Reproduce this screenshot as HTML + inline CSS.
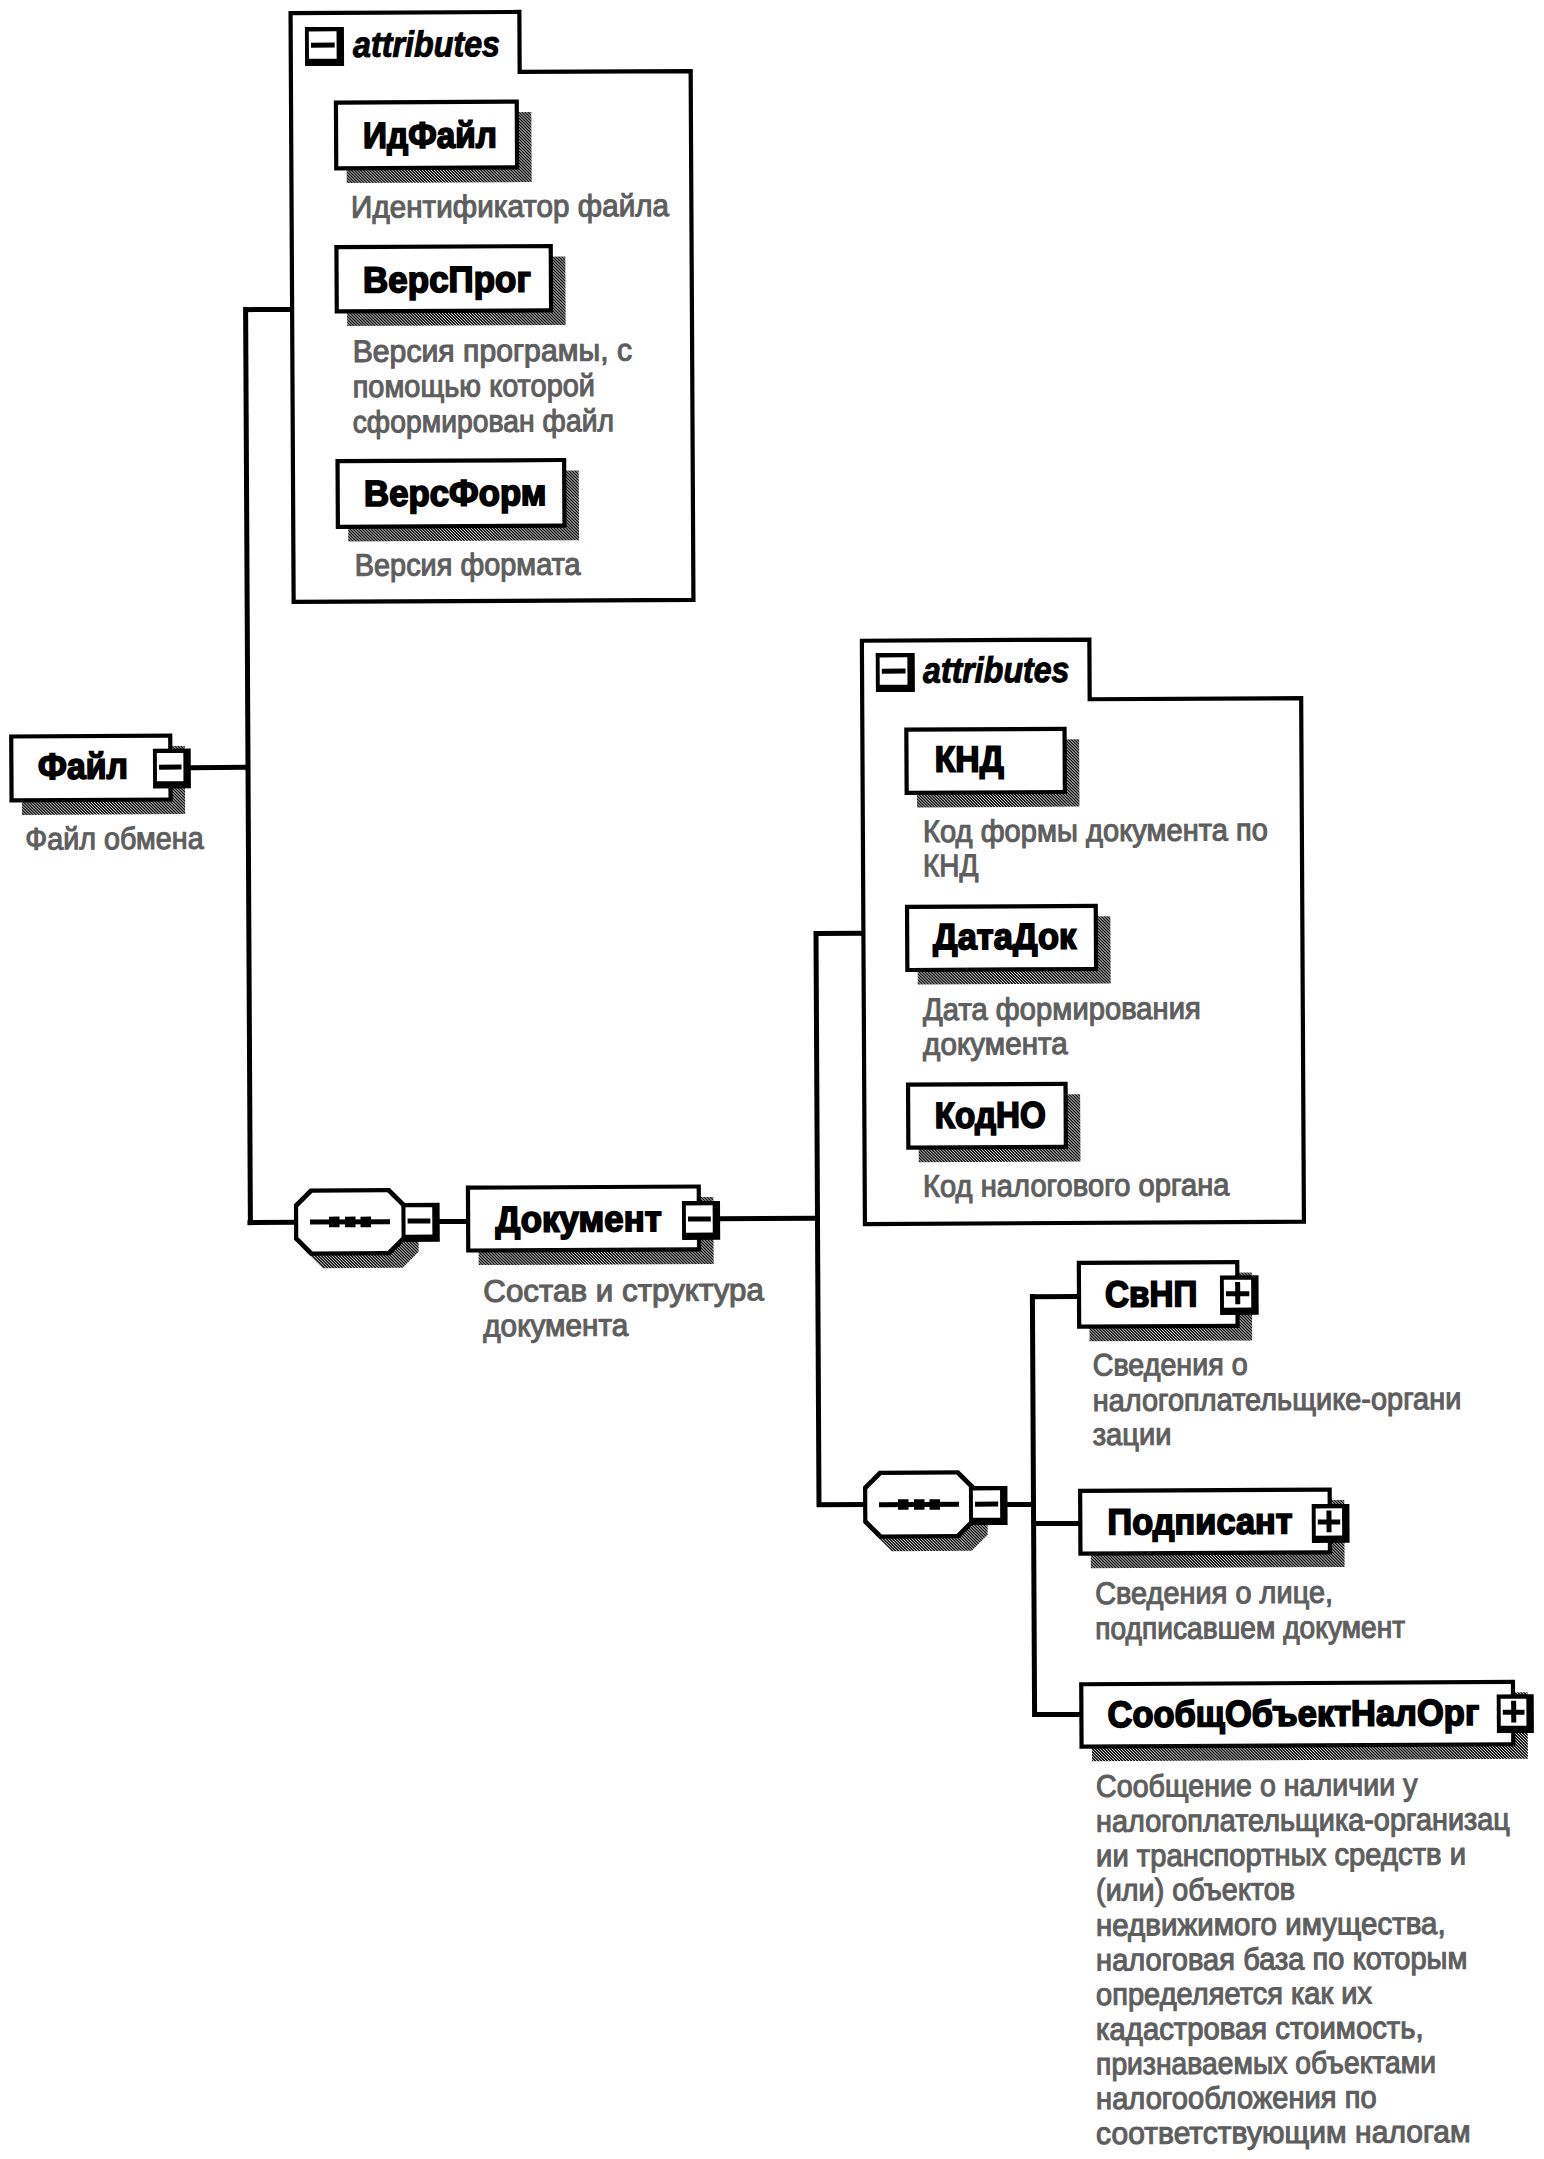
<!DOCTYPE html>
<html><head><meta charset="utf-8"><style>
html,body{margin:0;padding:0;background:#fff;}
body{width:1544px;height:2159px;overflow:hidden;position:relative;}
svg{position:absolute;left:0;top:0;}
.lb{font-family:"Liberation Sans",sans-serif;font-weight:bold;fill:#000;stroke:#000;stroke-width:1.7px;}
.at{font-family:"Liberation Sans",sans-serif;font-weight:bold;font-style:italic;font-size:36px;fill:#000;stroke:#000;stroke-width:1.0px;}
.ds{font-family:"Liberation Sans",sans-serif;font-weight:normal;fill:#5e5e5e;stroke:#5e5e5e;stroke-width:1.1px;}
</style></head><body>
<svg width="1544" height="2159" viewBox="0 0 1544 2159">
<defs>
<pattern id="dith" width="3" height="3" patternUnits="userSpaceOnUse">
<rect width="3" height="3" fill="#000"/><rect x="0" y="0" width="1" height="1" fill="#fff"/><rect x="1" y="1" width="1" height="1" fill="#fff"/><rect x="2" y="2" width="1" height="1" fill="#fff"/>
</pattern>
</defs>
<g transform="rotate(-0.3 772 1080)">
<rect x="244.5" y="307.0" width="48.5" height="5.0" fill="#000" transform="translate(4.04,-2.62)"/>
<rect x="245.5" y="307.0" width="5.0" height="918.0" fill="#000" transform="translate(1.65,-2.74)"/>
<rect x="190.0" y="765.0" width="58.0" height="5.0" fill="#000" transform="translate(1.64,-2.89)"/>
<rect x="247.5" y="1220.0" width="48.5" height="5.0" fill="#000" transform="translate(-0.74,-2.62)"/>
<rect x="439.0" y="1219.0" width="28.0" height="5.0" fill="#000" transform="translate(-0.74,-1.67)"/>
<rect x="719.0" y="1216.0" width="99.0" height="5.0" fill="#000" transform="translate(-0.73,-0.02)"/>
<rect x="815.0" y="931.0" width="5.0" height="576.0" fill="#000" transform="translate(-0.73,0.24)"/>
<rect x="815.0" y="931.0" width="48.0" height="5.0" fill="#000" transform="translate(0.77,0.35)"/>
<rect x="817.0" y="1502.0" width="48.0" height="5.0" fill="#000" transform="translate(-2.22,0.36)"/>
<rect x="1007.0" y="1502.0" width="27.0" height="5.0" fill="#000" transform="translate(-2.23,1.30)"/>
<rect x="1031.0" y="1294.0" width="5.0" height="423.0" fill="#000" transform="translate(-2.23,1.36)"/>
<rect x="1031.0" y="1294.0" width="47.0" height="5.0" fill="#000" transform="translate(-1.14,1.48)"/>
<rect x="1033.0" y="1521.0" width="46.0" height="5.0" fill="#000" transform="translate(-2.33,1.48)"/>
<rect x="1033.0" y="1712.0" width="47.0" height="5.0" fill="#000" transform="translate(-3.33,1.48)"/>
<path d="M292.1,600.9 V12.1 H520.9 V72.1 H691.9 V600.9 Z" fill="none" stroke="#000" stroke-width="4.2" stroke-linejoin="miter" transform="translate(4.05,-1.46)"/>
<rect x="305.0" y="27.0" width="39.0" height="39.0" fill="#000" transform="translate(5.42,-2.33)"/>
<rect x="308.9" y="31.4" width="27.7" height="27.4" fill="#fff" transform="translate(5.42,-2.34)"/>
<rect x="311.0" y="42.6" width="23.7" height="5.0" fill="#000" transform="translate(5.42,-2.34)"/>
<text x="353" y="56.5" class="at" textLength="147" lengthAdjust="spacingAndGlyphs" transform="translate(5.43,-1.79)">attributes</text>
<rect x="346.5" y="112.5" width="185.0" height="70.0" fill="url(#dith)" transform="translate(4.89,-1.73)"/>
<rect x="334.0" y="100.0" width="185.0" height="70.0" fill="#000" transform="translate(4.95,-1.80)"/>
<rect x="338.2" y="104.2" width="176.6" height="61.6" fill="#fff" transform="translate(4.95,-1.80)"/>
<text x="363" y="147.7" class="lb" style="font-size:36.5px" textLength="134.0" lengthAdjust="spacingAndGlyphs" transform="translate(4.95,-1.78)">ИдФайл</text>
<text x="351" y="216.8" class="ds" style="font-size:31px" textLength="318.0" lengthAdjust="spacingAndGlyphs" transform="translate(4.58,-1.36)">Идентификатор файла</text>
<rect x="347.0" y="257.0" width="218.5" height="68.5" fill="url(#dith)" transform="translate(4.13,-1.64)"/>
<rect x="334.5" y="244.5" width="218.5" height="68.5" fill="#000" transform="translate(4.20,-1.71)"/>
<rect x="338.7" y="248.7" width="210.1" height="60.1" fill="#fff" transform="translate(4.20,-1.71)"/>
<text x="363" y="292" class="lb" style="font-size:36.5px" textLength="168.0" lengthAdjust="spacingAndGlyphs" transform="translate(4.19,-1.69)">ВерсПрог</text>
<text x="352.6" y="361.2" class="ds" style="font-size:31px" textLength="279.4" lengthAdjust="spacingAndGlyphs" transform="translate(3.82,-1.45)">Версия програмы, с</text>
<text x="352.6" y="396.5" class="ds" style="font-size:31px" textLength="242.4" lengthAdjust="spacingAndGlyphs" transform="translate(3.64,-1.55)">помощью которой</text>
<text x="352.6" y="431.8" class="ds" style="font-size:31px" textLength="261.4" lengthAdjust="spacingAndGlyphs" transform="translate(3.45,-1.50)">сформирован файл</text>
<rect x="348.1" y="471.0" width="230.8" height="69.8" fill="url(#dith)" transform="translate(3.01,-1.61)"/>
<rect x="335.6" y="458.5" width="230.8" height="69.8" fill="#000" transform="translate(3.08,-1.67)"/>
<rect x="339.8" y="462.7" width="222.4" height="61.4" fill="#fff" transform="translate(3.08,-1.67)"/>
<text x="364" y="505.5" class="lb" style="font-size:36.5px" textLength="182.5" lengthAdjust="spacingAndGlyphs" transform="translate(3.08,-1.65)">ВерсФорм</text>
<text x="354.7" y="575.2" class="ds" style="font-size:31px" textLength="225.9" lengthAdjust="spacingAndGlyphs" transform="translate(2.70,-1.59)">Версия формата</text>
<rect x="21.8" y="746.5" width="163.2" height="68.0" fill="url(#dith)" transform="translate(1.58,-3.50)"/>
<rect x="9.3" y="734.0" width="163.2" height="68.0" fill="#000" transform="translate(1.64,-3.56)"/>
<rect x="13.5" y="738.2" width="154.8" height="59.6" fill="#fff" transform="translate(1.64,-3.56)"/>
<rect x="153.0" y="748.6" width="37.8" height="39.8" fill="#000" transform="translate(1.64,-3.14)"/>
<rect x="156.9" y="753.0" width="26.5" height="28.2" fill="#fff" transform="translate(1.65,-3.15)"/>
<rect x="159.0" y="764.6" width="22.5" height="5.0" fill="#000" transform="translate(1.65,-3.15)"/>
<text x="38" y="778.7" class="lb" style="font-size:36.5px" textLength="90.0" lengthAdjust="spacingAndGlyphs" transform="translate(1.65,-3.60)">Файл</text>
<text x="25.3" y="849.1" class="ds" style="font-size:31px" textLength="178.3" lengthAdjust="spacingAndGlyphs" transform="translate(1.27,-3.44)">Файл обмена</text>
<polygon points="322.5,1200.8 402.5,1200.8 418.5,1216.8 418.5,1252.0 402.5,1268.0 322.5,1268.0 306.5,1252.0 306.5,1216.8" fill="url(#dith)" transform="translate(-0.74,-2.21)"/>
<polygon points="310.0,1188.3 390.0,1188.3 406.0,1204.3 406.0,1239.5 390.0,1255.5 310.0,1255.5 294.0,1239.5 294.0,1204.3" fill="#000" transform="translate(-0.74,-2.21)"/>
<polygon points="312.5,1192.5 387.5,1192.5 401.8,1206.8 401.8,1237.0 387.5,1251.3 312.5,1251.3 298.2,1237.0 298.2,1206.8" fill="#fff" transform="translate(-0.74,-2.21)"/>
<rect x="310.0" y="1219.4" width="80.0" height="5.0" fill="#000" transform="translate(-0.74,-2.21)"/>
<rect x="329.0" y="1216.6" width="10.5" height="10.6" fill="#000" transform="translate(-0.74,-2.29)"/>
<rect x="345.0" y="1216.6" width="10.5" height="10.6" fill="#000" transform="translate(-0.74,-2.21)"/>
<rect x="360.5" y="1216.6" width="10.5" height="10.6" fill="#000" transform="translate(-0.74,-2.13)"/>
<rect x="401.6" y="1202.9" width="38.1" height="38.9" fill="#000" transform="translate(-0.74,-1.84)"/>
<rect x="405.5" y="1207.3" width="26.8" height="27.3" fill="#fff" transform="translate(-0.73,-1.85)"/>
<rect x="407.6" y="1218.5" width="22.8" height="5.0" fill="#000" transform="translate(-0.73,-1.85)"/>
<rect x="478.5" y="1197.5" width="235.0" height="67.0" fill="url(#dith)" transform="translate(-0.79,-0.92)"/>
<rect x="466.0" y="1185.0" width="235.0" height="67.0" fill="#000" transform="translate(-0.72,-0.99)"/>
<rect x="470.2" y="1189.2" width="226.6" height="58.6" fill="#fff" transform="translate(-0.72,-0.99)"/>
<rect x="682.0" y="1201.0" width="38.1" height="38.8" fill="#000" transform="translate(-0.73,-0.37)"/>
<rect x="685.9" y="1205.4" width="26.8" height="27.2" fill="#fff" transform="translate(-0.73,-0.38)"/>
<rect x="688.0" y="1216.5" width="22.8" height="5.0" fill="#000" transform="translate(-0.73,-0.38)"/>
<text x="495.5" y="1231.5" class="lb" style="font-size:36.5px" textLength="166.2" lengthAdjust="spacingAndGlyphs" transform="translate(-0.73,-1.01)">Документ</text>
<text x="483.2" y="1301.0" class="ds" style="font-size:31px" textLength="280.6" lengthAdjust="spacingAndGlyphs" transform="translate(-1.10,-0.78)">Состав и структура</text>
<text x="483.2" y="1336.0" class="ds" style="font-size:31px" textLength="145.2" lengthAdjust="spacingAndGlyphs" transform="translate(-1.29,-1.14)">документа</text>
<path d="M863.4,1222.9 V639.6 H1090.9 V699.3 H1302.4 V1222.9 Z" fill="none" stroke="#000" stroke-width="4.2" stroke-linejoin="miter" transform="translate(0.77,1.63)"/>
<rect x="875.8" y="653.0" width="39.0" height="39.0" fill="#000" transform="translate(2.13,0.65)"/>
<rect x="879.7" y="657.4" width="27.7" height="27.4" fill="#fff" transform="translate(2.14,0.64)"/>
<rect x="881.8" y="668.6" width="23.7" height="5.0" fill="#000" transform="translate(2.14,0.64)"/>
<text x="923" y="682.3" class="at" textLength="146.4" lengthAdjust="spacingAndGlyphs" transform="translate(2.14,1.18)">attributes</text>
<rect x="916.9" y="739.6" width="162.4" height="67.4" fill="url(#dith)" transform="translate(1.60,1.19)"/>
<rect x="904.4" y="727.1" width="162.4" height="67.4" fill="#000" transform="translate(1.67,1.12)"/>
<rect x="908.6" y="731.3" width="154.0" height="59.0" fill="#fff" transform="translate(1.67,1.12)"/>
<text x="934.7" y="771.6" class="lb" style="font-size:36.5px" textLength="69.1" lengthAdjust="spacingAndGlyphs" transform="translate(1.67,1.04)">КНД</text>
<text x="923" y="841.1" class="ds" style="font-size:31px" textLength="345.0" lengthAdjust="spacingAndGlyphs" transform="translate(1.30,1.70)">Код формы документа по</text>
<text x="923" y="876.1" class="ds" style="font-size:31px" textLength="55.5" lengthAdjust="spacingAndGlyphs" transform="translate(1.12,0.94)">КНД</text>
<rect x="917.6" y="916.8" width="192.9" height="67.3" fill="url(#dith)" transform="translate(0.68,1.27)"/>
<rect x="905.1" y="904.3" width="192.9" height="67.3" fill="#000" transform="translate(0.74,1.20)"/>
<rect x="909.3" y="908.5" width="184.5" height="58.9" fill="#fff" transform="translate(0.74,1.20)"/>
<text x="933" y="949" class="lb" style="font-size:36.5px" textLength="143.2" lengthAdjust="spacingAndGlyphs" transform="translate(0.75,1.22)">ДатаДок</text>
<text x="923" y="1019.4" class="ds" style="font-size:31px" textLength="277.8" lengthAdjust="spacingAndGlyphs" transform="translate(0.37,1.52)">Дата формирования</text>
<text x="923" y="1054.4" class="ds" style="font-size:31px" textLength="144.8" lengthAdjust="spacingAndGlyphs" transform="translate(0.18,1.17)">документа</text>
<rect x="918.6" y="1094.6" width="161.7" height="67.3" fill="url(#dith)" transform="translate(-0.26,1.19)"/>
<rect x="906.1" y="1082.1" width="161.7" height="67.3" fill="#000" transform="translate(-0.19,1.12)"/>
<rect x="910.3" y="1086.3" width="153.3" height="58.9" fill="#fff" transform="translate(-0.19,1.12)"/>
<text x="934.7" y="1127.6" class="lb" style="font-size:36.5px" textLength="111.2" lengthAdjust="spacingAndGlyphs" transform="translate(-0.19,1.14)">КодНО</text>
<text x="923" y="1196.0" class="ds" style="font-size:31px" textLength="306.4" lengthAdjust="spacingAndGlyphs" transform="translate(-0.56,1.59)">Код налогового органа</text>
<polygon points="891.6,1483.0 971.5,1483.0 987.5,1499.0 987.5,1535.0 971.5,1551.0 891.6,1551.0 875.6,1535.0 875.6,1499.0" fill="url(#dith)" transform="translate(-2.22,0.76)"/>
<polygon points="879.1,1470.5 959.0,1470.5 975.0,1486.5 975.0,1522.5 959.0,1538.5 879.1,1538.5 863.1,1522.5 863.1,1486.5" fill="#000" transform="translate(-2.22,0.76)"/>
<polygon points="881.6,1474.7 956.5,1474.7 970.8,1489.0 970.8,1520.0 956.5,1534.3 881.6,1534.3 867.3,1520.0 867.3,1489.0" fill="#fff" transform="translate(-2.22,0.76)"/>
<rect x="879.0" y="1502.0" width="80.0" height="5.0" fill="#000" transform="translate(-2.22,0.76)"/>
<rect x="898.0" y="1499.2" width="10.5" height="10.6" fill="#000" transform="translate(-2.22,0.68)"/>
<rect x="914.0" y="1499.2" width="10.5" height="10.6" fill="#000" transform="translate(-2.22,0.77)"/>
<rect x="929.5" y="1499.2" width="10.5" height="10.6" fill="#000" transform="translate(-2.22,0.85)"/>
<rect x="969.0" y="1486.0" width="38.5" height="39.0" fill="#000" transform="translate(-2.23,1.13)"/>
<rect x="972.9" y="1490.4" width="27.2" height="27.4" fill="#fff" transform="translate(-2.22,1.12)"/>
<rect x="975.0" y="1501.6" width="23.2" height="5.0" fill="#000" transform="translate(-2.22,1.12)"/>
<rect x="1089.4" y="1272.9" width="162.6" height="68.0" fill="url(#dith)" transform="translate(-1.19,2.08)"/>
<rect x="1076.9" y="1260.4" width="162.6" height="68.0" fill="#000" transform="translate(-1.13,2.02)"/>
<rect x="1081.1" y="1264.6" width="154.2" height="59.6" fill="#fff" transform="translate(-1.13,2.02)"/>
<rect x="1220.0" y="1275.4" width="38.6" height="39.4" fill="#000" transform="translate(-1.13,2.44)"/>
<rect x="1223.9" y="1279.8" width="27.3" height="27.8" fill="#fff" transform="translate(-1.13,2.43)"/>
<rect x="1226.0" y="1291.2" width="23.3" height="5.0" fill="#000" transform="translate(-1.13,2.44)"/>
<rect x="1235.2" y="1281.9" width="5.0" height="22.4" fill="#000" transform="translate(-1.12,2.44)"/>
<text x="1104.9" y="1306.6" class="lb" style="font-size:36.5px" textLength="92.5" lengthAdjust="spacingAndGlyphs" transform="translate(-1.13,1.98)">СвНП</text>
<text x="1092.6" y="1375.2" class="ds" style="font-size:31px" textLength="155.1" lengthAdjust="spacingAndGlyphs" transform="translate(-1.50,2.08)">Сведения о</text>
<text x="1092.6" y="1410.0" class="ds" style="font-size:31px" textLength="368.7" lengthAdjust="spacingAndGlyphs" transform="translate(-1.68,2.64)">налогоплательщике-органи</text>
<text x="1092.6" y="1444.9" class="ds" style="font-size:31px" textLength="78.9" lengthAdjust="spacingAndGlyphs" transform="translate(-1.86,1.88)">зации</text>
<rect x="1090.7" y="1500.7" width="253.7" height="66.9" fill="url(#dith)" transform="translate(-2.38,2.33)"/>
<rect x="1078.2" y="1488.2" width="253.7" height="66.9" fill="#000" transform="translate(-2.32,2.26)"/>
<rect x="1082.4" y="1492.4" width="245.3" height="58.5" fill="#fff" transform="translate(-2.32,2.26)"/>
<rect x="1311.8" y="1504.0" width="37.7" height="38.8" fill="#000" transform="translate(-2.33,2.92)"/>
<rect x="1315.7" y="1508.4" width="26.4" height="27.2" fill="#fff" transform="translate(-2.32,2.91)"/>
<rect x="1317.8" y="1519.5" width="22.4" height="5.0" fill="#000" transform="translate(-2.32,2.91)"/>
<rect x="1326.5" y="1510.5" width="5.0" height="21.8" fill="#000" transform="translate(-2.32,2.91)"/>
<text x="1107.5" y="1534" class="lb" style="font-size:36.5px" textLength="185.0" lengthAdjust="spacingAndGlyphs" transform="translate(-2.32,2.23)">Подписант</text>
<text x="1095.1" y="1603.3" class="ds" style="font-size:31px" textLength="237.9" lengthAdjust="spacingAndGlyphs" transform="translate(-2.69,2.31)">Сведения о лице,</text>
<text x="1095.1" y="1638.3" class="ds" style="font-size:31px" textLength="310.1" lengthAdjust="spacingAndGlyphs" transform="translate(-2.88,2.50)">подписавшем документ</text>
<rect x="1091.8" y="1693.5" width="435.9" height="66.5" fill="url(#dith)" transform="translate(-3.39,2.81)"/>
<rect x="1079.3" y="1681.0" width="435.9" height="66.5" fill="#000" transform="translate(-3.33,2.74)"/>
<rect x="1083.5" y="1685.2" width="427.5" height="58.1" fill="#fff" transform="translate(-3.33,2.74)"/>
<rect x="1496.8" y="1694.3" width="37.0" height="38.7" fill="#000" transform="translate(-3.33,3.88)"/>
<rect x="1500.7" y="1698.7" width="25.7" height="27.1" fill="#fff" transform="translate(-3.32,3.87)"/>
<rect x="1502.8" y="1709.8" width="21.7" height="5.0" fill="#000" transform="translate(-3.32,3.87)"/>
<rect x="1511.2" y="1700.8" width="5.0" height="21.7" fill="#000" transform="translate(-3.32,3.87)"/>
<text x="1107.5" y="1726" class="lb" style="font-size:36.5px" textLength="371.7" lengthAdjust="spacingAndGlyphs" transform="translate(-3.33,2.72)">СообщОбъектНалОрг</text>
<text x="1096" y="1796.0" class="ds" style="font-size:31px" textLength="321.4" lengthAdjust="spacingAndGlyphs" transform="translate(-3.70,2.53)">Сообщение о наличии у</text>
<text x="1096" y="1830.7" class="ds" style="font-size:31px" textLength="413.8" lengthAdjust="spacingAndGlyphs" transform="translate(-3.89,2.77)">налогоплательщика-организац</text>
<text x="1096" y="1865.4" class="ds" style="font-size:31px" textLength="370.0" lengthAdjust="spacingAndGlyphs" transform="translate(-4.07,2.65)">ии транспортных средств и</text>
<text x="1096" y="1900.1" class="ds" style="font-size:31px" textLength="199.0" lengthAdjust="spacingAndGlyphs" transform="translate(-4.25,2.21)">(или) объектов</text>
<text x="1096" y="1934.8" class="ds" style="font-size:31px" textLength="349.6" lengthAdjust="spacingAndGlyphs" transform="translate(-4.43,2.60)">недвижимого имущества,</text>
<text x="1096" y="1969.5" class="ds" style="font-size:31px" textLength="371.5" lengthAdjust="spacingAndGlyphs" transform="translate(-4.61,2.66)">налоговая база по которым</text>
<text x="1096" y="2004.2" class="ds" style="font-size:31px" textLength="276.0" lengthAdjust="spacingAndGlyphs" transform="translate(-4.79,2.41)">определяется как их</text>
<text x="1096" y="2038.9" class="ds" style="font-size:31px" textLength="327.6" lengthAdjust="spacingAndGlyphs" transform="translate(-4.98,2.54)">кадастровая стоимость,</text>
<text x="1096" y="2073.6" class="ds" style="font-size:31px" textLength="340.0" lengthAdjust="spacingAndGlyphs" transform="translate(-5.16,2.57)">признаваемых объектами</text>
<text x="1096" y="2108.3" class="ds" style="font-size:31px" textLength="280.6" lengthAdjust="spacingAndGlyphs" transform="translate(-5.34,2.42)">налогообложения по</text>
<text x="1096" y="2143.0" class="ds" style="font-size:31px" textLength="374.7" lengthAdjust="spacingAndGlyphs" transform="translate(-5.52,2.66)">соответствующим налогам</text>
</g>
</svg>
</body></html>
